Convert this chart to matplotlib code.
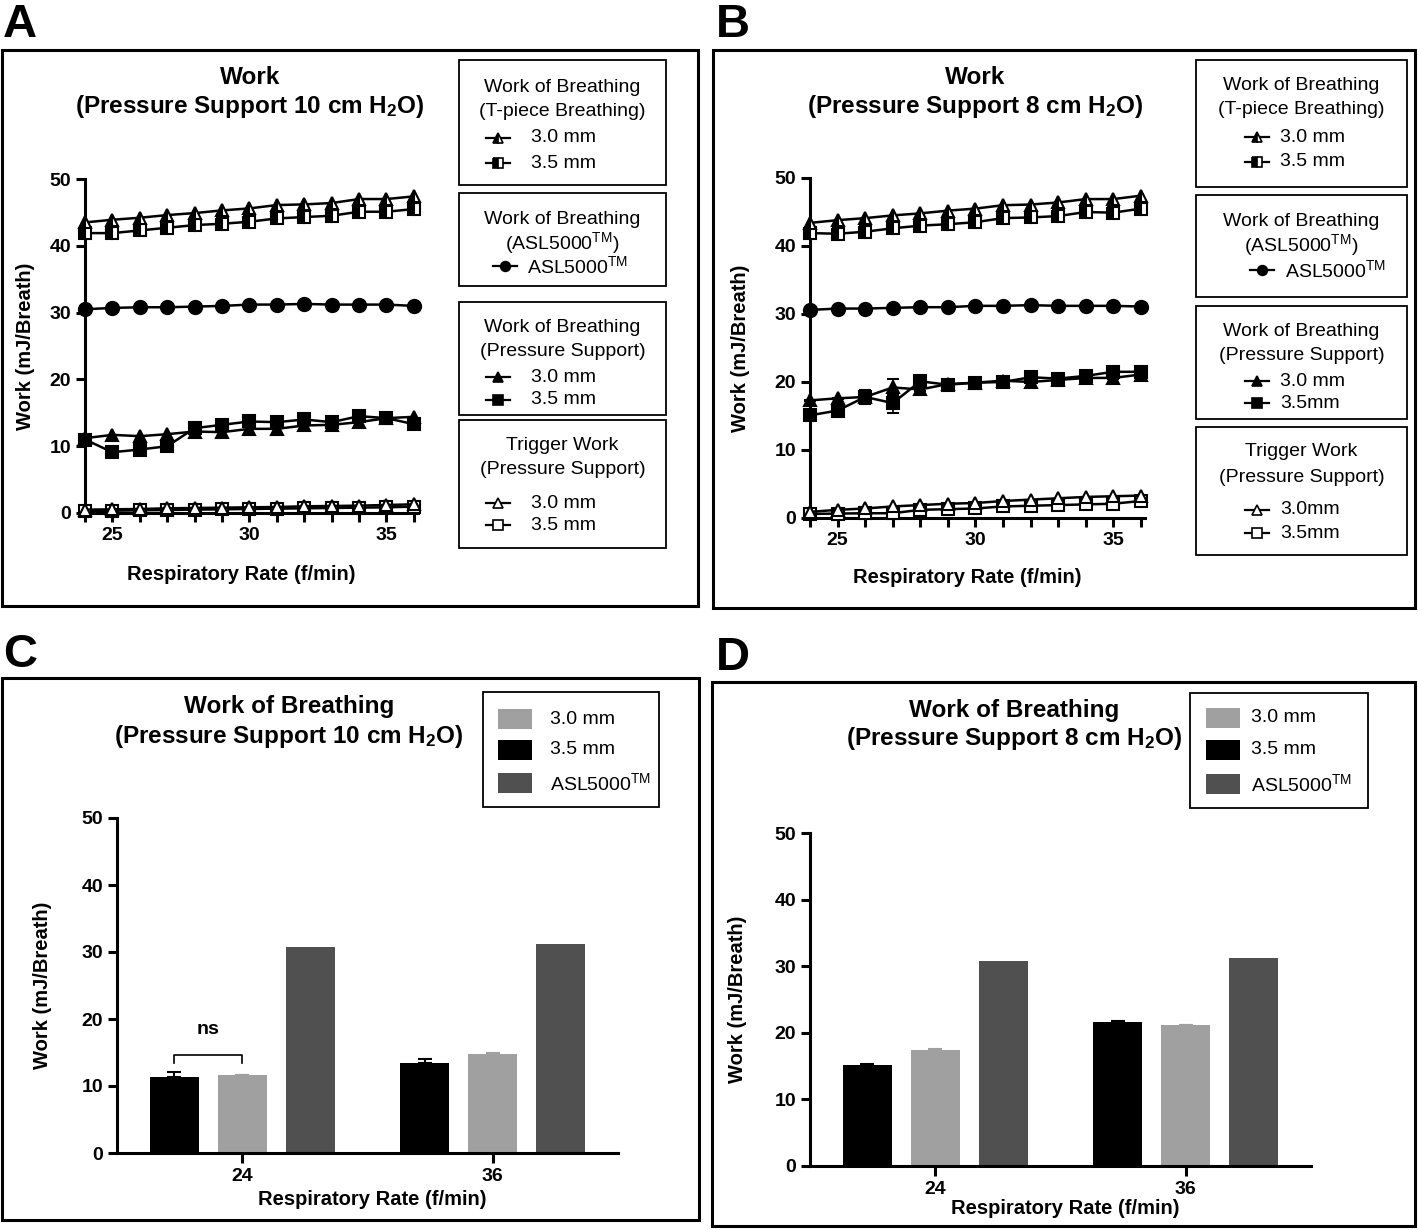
import matplotlib
matplotlib.use("Agg")
import matplotlib.pyplot as plt
from matplotlib.patches import Rectangle
from matplotlib.ticker import MultipleLocator
import numpy as np

plt.rcParams['font.family'] = ['Liberation Sans', 'DejaVu Sans']
plt.rcParams['mathtext.default'] = 'regular'

W, H = 1418, 1230

# Data

rate = [24, 25, 26, 27, 28, 29, 30, 31, 32, 33, 34, 35, 36]

# Panel A: pressure support 10 cm H2O
a_tpiece_30 = [43.5, 43.9, 44.2, 44.6, 44.9, 45.3, 45.6, 46.1, 46.2, 46.4, 47.0, 47.0, 47.4]
a_tpiece_35 = [41.9, 41.9, 42.3, 42.7, 43.1, 43.3, 43.6, 44.1, 44.3, 44.5, 45.1, 45.1, 45.5]
a_asl = [30.5, 30.7, 30.8, 30.8, 30.9, 31.0, 31.2, 31.2, 31.3, 31.2, 31.2, 31.2, 31.0]
a_ps_30 = [11.2, 11.7, 11.5, 11.8, 12.2, 12.1, 12.6, 12.6, 13.1, 13.2, 13.6, 14.2, 14.4]
a_ps_35 = [11.0, 9.1, 9.5, 10.0, 12.7, 13.2, 13.7, 13.6, 14.0, 13.6, 14.5, 14.2, 13.3]
a_ps_35_err = [0.6, 0.2, 0.2, 0.2, 0.3, 0.2, 0.3, 0.3, 0.3, 0.5, 0.4, 0.4, 0.3]
a_trig_30 = [0.5, 0.55, 0.6, 0.7, 0.75, 0.8, 0.85, 0.9, 1.0, 1.05, 1.1, 1.2, 1.3]
a_trig_35 = [0.3, 0.35, 0.4, 0.45, 0.5, 0.55, 0.6, 0.65, 0.7, 0.75, 0.8, 0.85, 0.95]

# Panel B: pressure support 8 cm H2O
b_tpiece_30 = [43.4, 43.8, 44.1, 44.5, 44.8, 45.2, 45.5, 46.0, 46.1, 46.4, 46.9, 46.9, 47.4]
b_tpiece_35 = [41.9, 41.8, 42.1, 42.6, 43.0, 43.2, 43.5, 44.1, 44.2, 44.4, 45.0, 44.9, 45.5]
b_asl = [30.6, 30.8, 30.8, 30.9, 31.0, 31.0, 31.2, 31.2, 31.3, 31.2, 31.2, 31.2, 31.1]
b_ps_30 = [17.3, 17.6, 17.8, 19.2, 18.9, 19.7, 19.9, 20.2, 20.0, 20.3, 20.6, 20.6, 21.1]
b_ps_30_err = [0.1, 0.1, 1.0, 1.3, 0.2, 0.1, 0.1, 0.1, 0.1, 0.1, 0.1, 0.1, 0.1]
b_ps_35 = [15.1, 15.8, 17.8, 16.9, 20.1, 19.6, 19.9, 20.0, 20.7, 20.5, 20.9, 21.5, 21.5]
b_ps_35_err = [0.3, 0.7, 0.6, 1.4, 0.2, 0.1, 0.1, 0.1, 0.1, 0.1, 0.1, 0.1, 0.1]
b_trig_30 = [0.9, 1.2, 1.4, 1.7, 1.9, 2.1, 2.2, 2.5, 2.7, 2.9, 3.1, 3.2, 3.3]
b_trig_35 = [0.6, 0.65, 0.7, 0.7, 1.2, 1.3, 1.4, 1.7, 1.8, 1.9, 2.0, 2.1, 2.5]

# Panels C and D: bars at 24 and 36 f/min
bar_groups = ['24', '36']
c_35 = [11.3, 13.5]
c_35_err = [0.8, 0.5]
c_30 = [11.6, 14.8]
c_30_err = [0.05, 0.1]
c_asl = [30.8, 31.2]
d_35 = [15.2, 21.6]
d_35_err = [0.15, 0.1]
d_30 = [17.4, 21.1]
d_30_err = [0.1, 0.05]
d_asl = [30.8, 31.3]

BLACK, GRAY, DARK = '#000000', '#a0a0a0', '#505050'

# marker styles: (marker, size, fill) ; fill 'half' = left half black
OPEN, FULL, HALF = 'open', 'full', 'half'


def marker_kw(marker, ms, fill):
    kw = dict(marker=marker, ms=ms, mec='black', mew=1.5)
    if fill == OPEN:
        kw.update(mfc='white')
    elif fill == FULL:
        kw.update(mfc='black')
    else:
        kw.update(mfc='black', fillstyle='left', markerfacecoloralt='white')
    return kw


def px_rect(l, t, r, b):
    return [l / W, 1 - b / H, (r - l) / W, (b - t) / H]


def style_axes(ax):
    for s in ['top', 'right']:
        ax.spines[s].set_visible(False)
    for s in ['left', 'bottom']:
        ax.spines[s].set_linewidth(2.2)
    ax.tick_params(which='both', width=2.2, length=6.5, labelsize=14, direction='out')
    ax.set_ylim(0, 50)
    ax.set_yticks([0, 10, 20, 30, 40, 50])
    for lab in ax.get_xticklabels() + ax.get_yticklabels():
        lab.set_fontweight('bold')


def line_panel(rect, series, ylab_x, xlab_y):
    ax = fig.add_axes(px_rect(*rect))
    ax.patch.set_alpha(0)
    for y, marker, ms, fill, err in series:
        ax.errorbar(rate, y, yerr=err, color='black', lw=1.8, capsize=4,
                    elinewidth=1.2, capthick=1.2, clip_on=False, zorder=3,
                    **marker_kw(marker, ms, fill))
    ax.set_xlim(24, 36.15)
    ax.set_xticks([25, 30, 35])
    ax.xaxis.set_minor_locator(MultipleLocator(1))
    style_axes(ax)
    ax.set_ylabel('Work (mJ/Breath)', fontsize=14.5, fontweight='bold')
    ax.set_xlabel('Respiratory Rate (f/min)', fontsize=14.5, fontweight='bold')
    ax.yaxis.set_label_coords(ylab_x, 0.5)
    ax.xaxis.set_label_coords(0.47, xlab_y)
    return ax


def bar_panel(rect, v35, e35, v30, e30, vasl, ylab_x, xlab_y):
    ax = fig.add_axes(px_rect(*rect))
    ax.patch.set_alpha(0)
    x = np.arange(len(bar_groups))
    off, w = 0.272, 0.195
    zero = np.zeros(len(x))
    ax.bar(x - off, v35, w, color=BLACK, yerr=[zero, e35], capsize=5,
           error_kw=dict(ecolor=BLACK, lw=1.5, capthick=1.5))
    ax.bar(x, v30, w, color=GRAY, yerr=[zero, e30], capsize=5,
           error_kw=dict(ecolor=GRAY, lw=1.5, capthick=1.5))
    ax.bar(x + off, vasl, w, color=DARK)
    ax.set_xlim(-0.5, 1.5)
    ax.set_xticks(x)
    ax.set_xticklabels(bar_groups)
    style_axes(ax)
    ax.tick_params(axis='x', length=7)
    ax.set_ylabel('Work (mJ/Breath)', fontsize=14.5, fontweight='bold')
    ax.set_xlabel('Respiratory Rate (f/min)', fontsize=14.5, fontweight='bold')
    ax.yaxis.set_label_coords(ylab_x, 0.5)
    ax.xaxis.set_label_coords(0.51, xlab_y)
    return ax, x, off


def legend_box(x0, y0, x1, y1, lines, entries, mx, tx):
    ov.add_patch(Rectangle((x0, y0), x1 - x0, y1 - y0, fill=False, lw=1.3, ec='black'))
    for txt, y in lines:
        ov.text((x0 + x1) / 2, y, txt, ha='center', va='center', fontsize=14)
    for y, marker, fill, label in entries:
        ov.plot([mx - 12, mx + 12], [y, y], color='black', lw=1.6)
        kw = marker_kw(marker, 7, fill)
        kw['mew'] = 1.2
        ov.plot([mx], [y], **kw)
        ov.text(tx, y, label, ha='left', va='center', fontsize=14)


def bar_legend(x0, y0, x1, y1, px, tx, rows):
    ov.add_patch(Rectangle((x0, y0), x1 - x0, y1 - y0, fill=False, lw=1.3, ec='black'))
    for y, color, label in rows:
        ov.add_patch(Rectangle((px, y - 10), 34, 20, color=color, lw=0))
        ov.text(tx, y, label, ha='left', va='center', fontsize=14)


fig = plt.figure(figsize=(W / 100, H / 100), dpi=100)

# overlay in pixel coordinates for frames, letters, titles and legends
ov = fig.add_axes([0, 0, 1, 1])
ov.set_xlim(0, W)
ov.set_ylim(H, 0)
ov.axis('off')

for (l, t, r, b) in [(2, 50, 698, 606), (713, 50, 1415, 608),
                     (2, 678, 699, 1220), (712, 682, 1415, 1226)]:
    ov.add_patch(Rectangle((l, t), r - l, b - t, fill=False, lw=2.2, ec='black'))

for letter, x, y in [('A', 3, 37), ('B', 716, 37), ('C', 3, 667), ('D', 716, 670)]:
    ov.text(x, y, letter, fontsize=34, fontweight='bold', va='baseline', ha='left')

ov.text(250, 77, 'Work', ha='center', va='center', fontsize=17.5, fontweight='bold')
ov.text(250, 106, '(Pressure Support 10 cm H$_2$O)', ha='center', va='center',
        fontsize=17.5, fontweight='bold')
ov.text(975, 78, 'Work', ha='center', va='center', fontsize=17.5, fontweight='bold')
ov.text(975, 107, '(Pressure Support 8 cm H$_2$O)', ha='center', va='center',
        fontsize=17.5, fontweight='bold')
ov.text(289, 707, 'Work of Breathing', ha='center', va='center', fontsize=17.5, fontweight='bold')
ov.text(289, 736, '(Pressure Support 10 cm H$_2$O)', ha='center', va='center',
        fontsize=17.5, fontweight='bold')
ov.text(1014, 710, 'Work of Breathing', ha='center', va='center', fontsize=17.5, fontweight='bold')
ov.text(1014, 739, '(Pressure Support 8 cm H$_2$O)', ha='center', va='center',
        fontsize=17.5, fontweight='bold')

TM = 'ASL5000$^{TM}$'

# Panel A
line_panel((85, 179, 418, 513), [
    (a_trig_35, 's', 8, OPEN, None),
    (a_trig_30, '^', 9, OPEN, None),
    (a_ps_35, 's', 8, FULL, a_ps_35_err),
    (a_ps_30, '^', 9, FULL, None),
    (a_asl, 'o', 9.5, FULL, None),
    (a_tpiece_35, 's', 8, HALF, None),
    (a_tpiece_30, '^', 9, HALF, None),
], -0.15, -0.155)

legend_box(459, 60, 666, 185, [('Work of Breathing', 87), ('(T-piece Breathing)', 112)],
           [(138, '^', HALF, '3.0 mm'), (163, 's', HALF, '3.5 mm')], 498, 531)
legend_box(459, 193, 666, 286, [('Work of Breathing', 220), ('(ASL5000$^{TM}$)', 243)],
           [(266, 'o', FULL, TM)], 505, 527)
legend_box(459, 302, 666, 415, [('Work of Breathing', 328), ('(Pressure Support)', 352)],
           [(377, '^', FULL, '3.0 mm'), (400, 's', FULL, '3.5 mm')], 498, 531)
legend_box(459, 420, 666, 548, [('Trigger Work', 445), ('(Pressure Support)', 469)],
           [(503, '^', OPEN, '3.0 mm'), (525, 's', OPEN, '3.5 mm')], 498, 531)

# Panel B
line_panel((810, 178, 1145, 518), [
    (b_trig_35, 's', 8, OPEN, None),
    (b_trig_30, '^', 9, OPEN, None),
    (b_ps_35, 's', 8, FULL, b_ps_35_err),
    (b_ps_30, '^', 9, FULL, b_ps_30_err),
    (b_asl, 'o', 9.5, FULL, None),
    (b_tpiece_35, 's', 8, HALF, None),
    (b_tpiece_30, '^', 9, HALF, None),
], -0.18, -0.147)

legend_box(1196, 60, 1407, 187, [('Work of Breathing', 86), ('(T-piece Breathing)', 110)],
           [(137, '^', HALF, '3.0 mm'), (162, 's', HALF, '3.5 mm')], 1257, 1280)
legend_box(1196, 195, 1407, 297, [('Work of Breathing', 222), ('(ASL5000$^{TM}$)', 245)],
           [(270, 'o', FULL, TM)], 1262, 1285)
legend_box(1196, 306, 1407, 419, [('Work of Breathing', 332), ('(Pressure Support)', 356)],
           [(381, '^', FULL, '3.0 mm'), (403, 's', FULL, '3.5mm')], 1257, 1280)
legend_box(1196, 427, 1407, 555, [('Trigger Work', 452), ('(Pressure Support)', 477)],
           [(510, '^', OPEN, '3.0mm'), (533, 's', OPEN, '3.5mm')], 1257, 1280)

# Panel C
axc, xc, offc = bar_panel((117, 818, 618, 1153), c_35, c_35_err, c_30, c_30_err, c_asl,
                          -0.13, -0.11)
# "ns" bracket between the two tube sizes at 24 f/min
axc.plot([xc[0] - offc, xc[0] - offc, xc[0], xc[0]], [13.4, 14.6, 14.6, 13.4],
         color='black', lw=1.2)
axc.text(xc[0] - offc / 2, 18.4, 'ns', ha='center', va='center', fontsize=14,
         fontweight='bold')
bar_legend(483, 692, 659, 807, 498, 550,
           [(719, GRAY, '3.0 mm'), (750, BLACK, '3.5 mm'), (783, DARK, TM)])

# Panel D
bar_panel((810, 833, 1311, 1166), d_35, d_35_err, d_30, d_30_err, d_asl, -0.126, -0.1)
bar_legend(1190, 693, 1368, 808, 1206, 1251,
           [(718, GRAY, '3.0 mm'), (750, BLACK, '3.5 mm'), (784, DARK, TM)])

fig.savefig('out.png', dpi=100)
